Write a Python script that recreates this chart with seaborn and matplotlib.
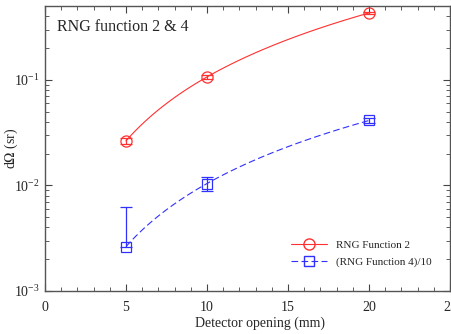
import numpy as np
import pandas as pd
import matplotlib
matplotlib.use("Agg")
import matplotlib.pyplot as plt
from matplotlib.lines import Line2D
from matplotlib.ticker import MultipleLocator, LogLocator, NullFormatter
import seaborn as sns

# data
opening = [5, 10, 20]
rng2 = [0.0264, 0.107, 0.43]
rng2_err = [0.0015, 0.004, 0.012]
rng4 = [0.00264, 0.0104, 0.0413]
rng4_lo = [0.0, 0.0015, 0.002]
rng4_hi = [0.0036, 0.0015, 0.002]

sns.set_style("ticks")
plt.rcParams['font.family'] = ['Liberation Serif', 'DejaVu Serif']
plt.rcParams['mathtext.fontset'] = 'stix'

fig = plt.figure(figsize=(4.51, 3.34), dpi=100)
ax = fig.add_axes([0.0998, 0.1287, 0.898, 0.853])

red = '#ff3030'
blue = '#3030ff'

# smooth curves through the points (power law fit, straight in log-log)
xs = np.linspace(5, 20, 100)
c2 = np.polyfit(np.log10(opening), np.log10(rng2), 1)
c4 = np.polyfit(np.log10(opening), np.log10(rng4), 1)
curves = pd.DataFrame({'x': xs,
                       'f2': 10 ** np.polyval(c2, np.log10(xs)),
                       'f4': 10 ** np.polyval(c4, np.log10(xs))})
sns.lineplot(data=curves, x='x', y='f2', ax=ax, color=red, lw=0.8)
sns.lineplot(data=curves, x='x', y='f4', ax=ax, color=blue, lw=0.8, linestyle=(0, (6, 3)))

ax.errorbar(opening, rng2, yerr=rng2_err, fmt='o', ms=8, mfc='none', mec=red,
            ecolor=red, elinewidth=0.9, capsize=4, mew=0.9)
ax.errorbar(opening, rng4, yerr=[rng4_lo, rng4_hi], fmt='s', ms=7.5, mfc='none', mec=blue,
            ecolor=blue, elinewidth=0.9, capsize=4, mew=0.9)

ax.set_yscale('log')
ax.set_xlim(0, 25)
ax.set_ylim(1e-3, 0.5)
ax.xaxis.set_major_locator(MultipleLocator(5))
ax.xaxis.set_minor_locator(MultipleLocator(1))
ax.yaxis.set_major_locator(LogLocator(base=10, numticks=10))
ax.yaxis.set_minor_locator(LogLocator(base=10, subs=np.arange(2, 10), numticks=10))
ax.yaxis.set_minor_formatter(NullFormatter())
ax.tick_params(which='both', direction='in', top=True, right=True, labelsize=10, color='#444444')
ax.tick_params(axis='x', pad=7)
ax.tick_params(which='major', length=5, width=0.8)
ax.tick_params(which='minor', length=3, width=0.6)
for s in ax.spines.values():
    s.set_color('#555555')
    s.set_linewidth(1.0)

ax.set_xlabel('Detector opening (mm)', fontsize=10)
ax.set_ylabel('d$\\Omega$ (sr)', fontsize=10)
ax.xaxis.set_label_coords(0.53, -0.09)
ax.yaxis.set_label_coords(-0.062, 0.5)
ax.text(0.03, 0.955, 'RNG function 2 & 4', transform=ax.transAxes, fontsize=11.5,
        va='top', ha='left')

handles = [
    Line2D([], [], color=red, lw=0.8, marker='o', ms=8, mfc='none', mec=red),
    Line2D([], [], color=blue, lw=0.8, linestyle=(0, (6, 3)), marker='s', ms=7.5, mfc='none', mec=blue),
]
ax.legend(handles, ['RNG Function 2', '(RNG Function 4)/10'], loc='lower right',
          bbox_to_anchor=(0.98, 0.05), frameon=False, fontsize=8, handlelength=3.3,
          handletextpad=0.8, labelspacing=0.6)

fig.savefig('out.png', dpi=100)
